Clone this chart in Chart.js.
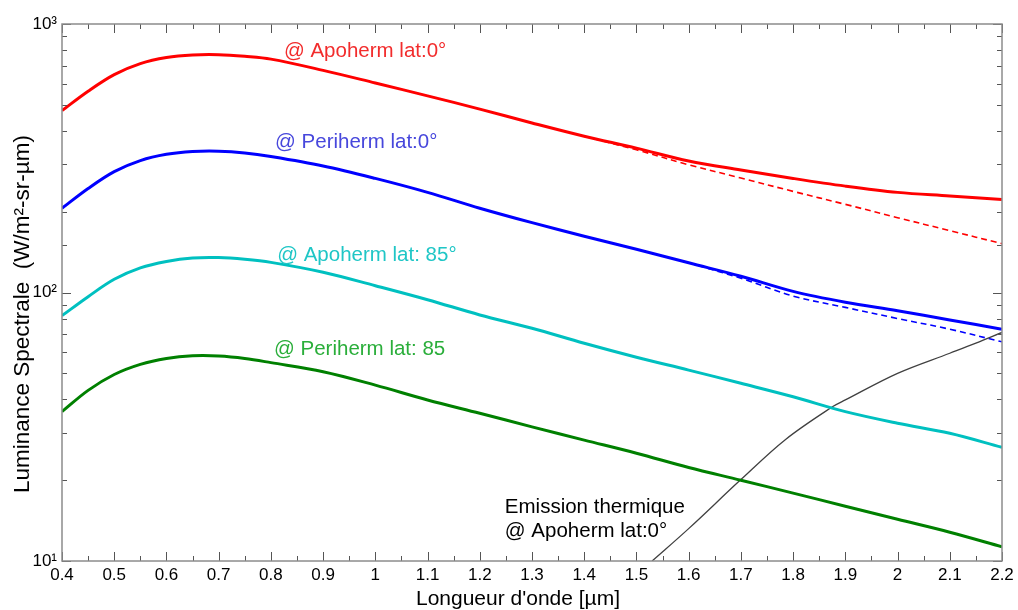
<!DOCTYPE html>
<html>
<head>
<meta charset="utf-8">
<script src="https://cdn.jsdelivr.net/npm/chart.js@4.4.1/dist/chart.umd.min.js"></script>
<style>
  html, body { margin: 0; padding: 0; background: #fff; }
</style>
</head>
<body>
<canvas id="chart" width="1018" height="610"></canvas>
<script>
// wavelength grid (µm) shared by the four main curves
const wavelength = [0.4, 0.45, 0.5, 0.55, 0.6, 0.65, 0.7, 0.75, 0.8, 0.9, 1.0, 1.1, 1.2, 1.3, 1.4, 1.5, 1.6, 1.7, 1.8, 1.9, 2.0, 2.1, 2.2];
const apoEq   = [476, 562, 648, 712, 750, 767, 769, 758, 740, 672, 603, 540, 482, 428, 382, 345, 309, 286, 266, 249, 236, 229, 222];
const periEq  = [206, 244, 282, 310, 327, 335, 336, 331, 321, 296, 266, 236, 206, 182, 162, 145, 129, 115, 101, 92, 85.5, 79, 73];
const apo85   = [82, 96.5, 112, 123.5, 130.5, 134.5, 135, 133, 129.5, 119, 106, 94, 82.5, 73.6, 64.7, 57.4, 51.4, 45.9, 40.9, 36, 32.6, 29.9, 26.5];
const peri85  = [36, 43.2, 49.5, 54, 56.8, 58.1, 58, 56.8, 54.8, 50.7, 45.2, 39.8, 35.5, 31.6, 28.2, 25.2, 22.3, 20, 17.9, 16, 14.3, 12.8, 11.3];

// reflected part only (dashed)
const wlApoDash  = [1.4, 1.5, 1.6, 1.7, 1.8, 1.9, 2.0, 2.1, 2.2];
const apoEqDash  = [382, 340, 299, 267, 238, 213, 190, 170, 152];
const wlPeriDash = [1.6, 1.7, 1.8, 1.9, 2.0, 2.1, 2.2];
const periEqDash = [129, 113, 97, 88, 80, 73, 65.5];

// thermal emission @ Apoherm lat:0°
const wlThermal = [1.53, 1.6, 1.7, 1.785, 1.876, 1.9, 2.0, 2.1, 2.15, 2.2];
const thermal   = [10, 13.2, 20.1, 28.3, 37.6, 39.8, 50, 59.4, 64.8, 71];

// axis ticks
const xTickValues = [0.4, 0.5, 0.6, 0.7, 0.8, 0.9, 1, 1.1, 1.2, 1.3, 1.4, 1.5, 1.6, 1.7, 1.8, 1.9, 2, 2.1, 2.2];
const xTickLabels = ['0.4', '0.5', '0.6', '0.7', '0.8', '0.9', '1', '1.1', '1.2', '1.3', '1.4', '1.5', '1.6', '1.7', '1.8', '1.9', '2', '2.1', '2.2'];
const yTickValues = [10, 100, 1000];
const yTickLabels = ['10¹', '10²', '10³'];

const FONT = '"Liberation Sans", Arial, sans-serif';

const pts = (xs, ys) => xs.map((x, i) => ({ x: x, y: ys[i] }));

function findIdx(arr, v) {
    return arr.findIndex(a => Math.abs(a - v) < 1e-6);
}

// text labels, anchored in data coordinates
const notes = [
    { text: '@ Apoherm lat:0°',   x: 0.825, y: 753, color: '#f22c2c' },
    { text: '@ Periherm lat:0°',  x: 0.808, y: 344, color: '#4747dc' },
    { text: '@ Apoherm lat: 85°', x: 0.812, y: 131, color: '#1fc6c6' },
    { text: '@ Periherm lat: 85', x: 0.806, y: 58.5, color: '#2aae3a' },
    { text: 'Emission thermique', x: 1.248, y: 15.1, color: '#000' },
    { text: '@ Apoherm lat:0°',   x: 1.248, y: 12.3, color: '#000' }
];

const framePlugin = {
    id: 'frame',
    afterDraw(chart) {
        const { ctx, chartArea: a, scales: { x, y } } = chart;
        ctx.save();

        // inside tick marks on all four sides
        ctx.strokeStyle = '#555';
        ctx.lineWidth = 1;
        ctx.beginPath();
        x.ticks.forEach(t => {
            const px = Math.round(x.getPixelForValue(t.value)) + 0.5;
            const len = findIdx(xTickValues, t.value) >= 0 ? 9 : 5;
            ctx.moveTo(px, a.bottom); ctx.lineTo(px, a.bottom - len);
            ctx.moveTo(px, a.top); ctx.lineTo(px, a.top + len);
        });
        y.ticks.forEach(t => {
            const py = Math.round(y.getPixelForValue(t.value)) + 0.5;
            const len = findIdx(yTickValues, t.value) >= 0 ? 9 : 5;
            ctx.moveTo(a.left, py); ctx.lineTo(a.left + len, py);
            ctx.moveTo(a.right, py); ctx.lineTo(a.right - len, py);
        });
        ctx.stroke();

        ctx.strokeStyle = '#8c8c8c';
        ctx.lineWidth = 1.5;
        ctx.strokeRect(a.left, a.top, a.right - a.left, a.bottom - a.top);

        // annotations
        ctx.font = '20.5px ' + FONT;
        ctx.textAlign = 'left';
        ctx.textBaseline = 'alphabetic';
        notes.forEach(n => {
            ctx.fillStyle = n.color;
            ctx.fillText(n.text, x.getPixelForValue(n.x), y.getPixelForValue(n.y));
        });

        // axis titles
        ctx.fillStyle = '#000';
        ctx.font = '21px ' + FONT;
        ctx.textAlign = 'center';
        ctx.fillText("Longueur d'onde [µm]", 518, 605);

        ctx.font = '22.5px ' + FONT;
        ctx.translate(23, 314);
        ctx.rotate(-Math.PI / 2);
        ctx.textBaseline = 'middle';
        ctx.fillText('Luminance Spectrale  (W/m²-sr-µm)', 0, 0);
        ctx.restore();
    }
};

new Chart(document.getElementById('chart'), {
    type: 'line',
    data: {
        datasets: [
            { data: pts(wavelength, apoEq),  borderColor: '#ff0000', borderWidth: 3 },
            { data: pts(wavelength, periEq), borderColor: '#0000ff', borderWidth: 3 },
            { data: pts(wavelength, apo85),  borderColor: '#00c0c0', borderWidth: 3 },
            { data: pts(wavelength, peri85), borderColor: '#008000', borderWidth: 3 },
            { data: pts(wlThermal, thermal), borderColor: '#404040', borderWidth: 1.3 },
            { data: pts(wlApoDash, apoEqDash),   borderColor: '#ff0000', borderWidth: 1.6, borderDash: [6, 4] },
            { data: pts(wlPeriDash, periEqDash), borderColor: '#0000ff', borderWidth: 1.6, borderDash: [6, 4] }
        ]
    },
    options: {
        responsive: false,
        animation: false,
        layout: { padding: { left: 0, top: 24, right: 16, bottom: 0 } },
        elements: {
            point: { radius: 0 },
            line: { tension: 0.35, fill: false }
        },
        plugins: {
            legend: { display: false },
            tooltip: { enabled: false }
        },
        scales: {
            x: {
                type: 'linear',
                min: 0.4,
                max: 2.2,
                grid: { display: false, drawTicks: false },
                border: { display: false },
                afterFit: s => { s.height = 49; },
                ticks: {
                    stepSize: 0.05,
                    autoSkip: false,
                    maxRotation: 0,
                    padding: 4,
                    color: '#000',
                    font: { family: FONT, size: 17 },
                    callback: v => {
                        const i = findIdx(xTickValues, v);
                        return i >= 0 ? xTickLabels[i] : '';
                    }
                }
            },
            y: {
                type: 'logarithmic',
                min: 10,
                max: 1000,
                grid: { display: false, drawTicks: false },
                border: { display: false },
                afterFit: s => { s.width = 62; },
                ticks: {
                    autoSkip: false,
                    padding: 5,
                    color: '#000',
                    font: { family: FONT, size: 17 },
                    callback: v => {
                        const i = findIdx(yTickValues, v);
                        return i >= 0 ? yTickLabels[i] : '';
                    }
                }
            }
        }
    },
    plugins: [framePlugin]
});
</script>
</body>
</html>
